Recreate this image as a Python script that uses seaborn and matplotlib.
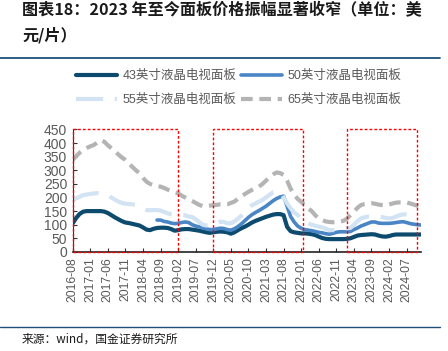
import numpy as np
import pandas as pd
import matplotlib
matplotlib.use("Agg")
import matplotlib.pyplot as plt
from matplotlib.lines import Line2D
from matplotlib.patches import Rectangle
import seaborn as sns

# monthly panel prices 2016-08 .. 2024-11 (USD per piece)
p43 = [105, 125, 140, 148, 150, 150, 150, 150, 150, 148,
       143, 135, 127, 120, 113, 108, 106, 103, 100, 97,
       90, 82, 80, 85, 88, 89, 89, 88, 84, 78,
       80, 83, 84, 84, 82, 80, 78, 75, 72, 70,
       72, 74, 75, 74, 72, 67, 72, 80, 87, 93,
       100, 108, 114, 119, 124, 129, 133, 137, 139, 139,
       135, 92, 76, 72, 70, 68, 68, 67, 65, 62,
       56, 51, 48, 47, 47, 47, 47, 47, 48, 50,
       55, 60, 62, 63, 64, 65, 64, 60, 57, 56,
       58, 62, 64, 64, 64, 64, 64, 64, 64, 64]
p50 = [np.nan] * 24 + [
       117, 117, 112, 110, 106, 104, 105, 108, 110, 108,
       100, 95, 92, 88, 85, 82, 82, 85, 87, 86,
       82, 80, 85, 93, 103, 115, 127, 137, 145, 152,
       160, 168, 178, 188, 196, 202, 205, np.nan, 130, 110,
       95, 87, 82, 80, 78, 75, 72, 70, 67, 65,
       68, 72, 74, 74, 74, 75, 82, 88, 95, 100,
       105, 110, 110, 106, 105, 105, 105, 106, 108, 110,
       111, 108, 104, 102, 100, 99]
p55 = [191, 197, 203, 209, 211, 213, 215, 216, 214, 212,
       209, 200, 192, 185, 180, 177, 176, 175, 172, 165,
       158, 154, 153, 154, 154, 152, 147, 142, 138, 136,
       136, 136, 134, 130, 128, 120, 110, 100, 97, 97,
       99, 105, 111, 110, 105, 105, 112, 122, 133, 150,
       162, 172, 178, 185, 191, 200, 210, 219, 222, 221,
       200, 178, 160, 145, 136, 120, 107, 104, 100, 96,
       93, 90, 85, 80, 80, 80, 82, 85, 87, 88,
       100, 113, 123, 127, 130, 130, 129, 129, 128, 125,
       123, 125, 130, 135, 138, 138] + [np.nan] * 4
p65 = [338, 352, 365, 375, 382, 388, 393, 402, 411, 405,
       392, 381, 370, 358, 347, 338, 325, 312, 300, 289,
       272, 258, 250, 245, 241, 240, 235, 229, 225, 220,
       215, 207, 200, 193, 187, 180, 173, 168, 168, 170,
       172, 173, 175, 175, 175, 180, 185, 195, 205, 213,
       221, 228, 235, 240, 250, 262, 276, 285, 292, 290,
       283, 262, 232, 210, 195, 184, 172, 160, 150, 135,
       122, 117, 112, 110, 109, 110, 112, 114, 122, 135,
       148, 162, 172, 176, 178, 179, 177, 174, 172, 170,
       174, 178, 181, 182, 182, 182, 178, 174, 170, 168]

tick_labels = ["2016-08", "2017-01", "2017-06", "2017-11", "2018-04",
               "2018-09", "2019-02", "2019-07", "2019-12", "2020-05",
               "2020-10", "2021-03", "2021-08", "2022-01", "2022-06",
               "2022-11", "2023-04", "2023-09", "2024-02", "2024-07"]

names = ["43英寸液晶电视面板", "50英寸液晶电视面板", "55英寸液晶电视面板", "65英寸液晶电视面板"]
colors = ["#0c4a6e", "#4a86c6", "#d2e3f3", "#b4b4b4"]
widths = [3.0, 2.6, 3.0, 3.0]
styles = ["-", "-", (0, (6.5, 2.8)), (0, (2.8, 1.6))]

# highlighted periods (month index, start/end)
boxes = [(0, 30), (40, 65.5), (78, 98)]

sns.set_style("ticks")
plt.rcParams["font.family"] = ["Liberation Sans", "Noto Sans CJK SC"]

fig = plt.figure(figsize=(4.48, 3.51), dpi=100)
ax = fig.add_axes([72.7 / 448, 1 - 251.9 / 351, 348 / 448, 122.4 / 351])

x = np.arange(len(p43))
handles = []
for vals, nm, c, w, ls in zip([p43, p50, p55, p65], names, colors, widths, styles):
    d = pd.DataFrame({"m": x, "v": vals})
    sns.lineplot(data=d, x="m", y="v", ax=ax, color=c, lw=w, linestyle=ls, label=nm)
    handles.append(Line2D([], [], color=c, lw=w, linestyle=ls))
ax.get_legend().remove()

for a, b in boxes:
    ax.add_patch(Rectangle((a, 0), b - a, 450, fill=False, ec="#ff0000",
                           lw=1.0, ls=(0, (2, 1.5)), zorder=5, clip_on=False))

ax.set_xlim(0, 99)
ax.set_ylim(0, 450)
ax.set_yticks(range(0, 451, 50))
ax.set_xticks(range(0, 100, 5))
ax.set_xticklabels(tick_labels, rotation=90)
ax.set_xlabel("")
ax.set_ylabel("")
ax.tick_params(axis="both", direction="in", length=3, width=0.8, colors="#333333",
               labelcolor="#595959", labelsize=8.7, pad=4)
ax.tick_params(axis="y", labelsize=10)
for s in ["top", "right"]:
    ax.spines[s].set_visible(False)
ax.spines["left"].set_color("#333333")
ax.spines["bottom"].set_color("#222222")
ax.spines["bottom"].set_linewidth(1.2)

order = [0, 2, 1, 3]
fig.legend([handles[i] for i in order], [names[i] for i in order], ncol=2,
           loc="upper left", bbox_to_anchor=(76 / 448, 1 - 70 / 351),
           frameon=False, fontsize=9, labelcolor="#595959", handlelength=3.3,
           handletextpad=0.45, columnspacing=0.3, labelspacing=0.95,
           borderpad=0, borderaxespad=0)

# title and source
tfont = ["Noto Sans CJK SC", "DejaVu Sans"]
fig.text(22 / 448, 1 - 10 / 351, "图表18：2023 年至今面板价格振幅显著收窄（单位：美",
         family=tfont, fontsize=11.6, fontweight="bold", style="italic",
         va="center", color="#1a1a1a")
fig.text(22 / 448, 1 - 35 / 351, "元/片）", family=tfont, fontsize=11.6,
         fontweight="bold", style="italic", va="center", color="#1a1a1a")
fig.add_artist(Line2D([0, 440 / 448], [1 - 58 / 351] * 2, color="#1f4e79", lw=1.3))
fig.add_artist(Line2D([0, 440 / 448], [1 - 327 / 351] * 2, color="#1f4e79", lw=1.0))
fig.text(22 / 448, 1 - 339 / 351, "来源：wind，国金证券研究所", family=tfont,
         fontsize=8.5, va="center", color="#1a1a1a")

plt.savefig("out.png", dpi=100)
